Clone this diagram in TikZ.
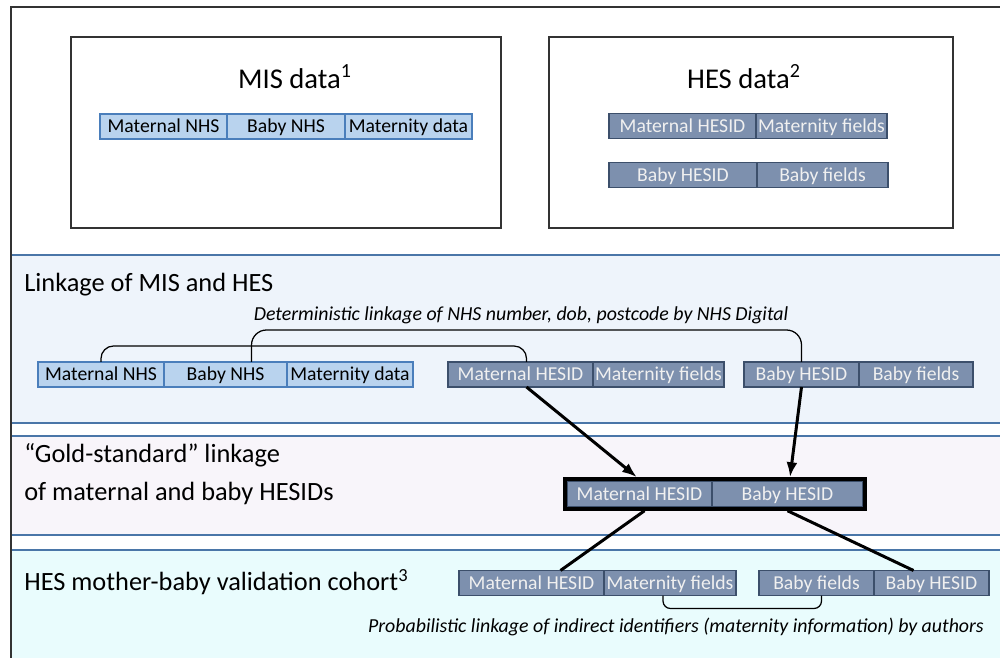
\documentclass[tikz,border=0pt]{standalone}
\usepackage{fontspec}
\setmainfont{Carlito}
\usepackage{xcolor}
\definecolor{frameDark}{HTML}{333333}
\definecolor{bandLine}{HTML}{4A76A8}
\definecolor{bandLink}{HTML}{EEF4FB}
\definecolor{bandGold}{HTML}{F8F5FA}
\definecolor{bandCohort}{HTML}{E9FCFD}
\definecolor{misFill}{HTML}{B9D3EE}
\definecolor{misBorder}{HTML}{4A7EBB}
\definecolor{hesFill}{HTML}{7D90AE}
\definecolor{hesBorder}{HTML}{3C4F6B}
\usepackage{tikz}
\usetikzlibrary{arrows.meta,positioning,fit,calc}
\tikzset{
    panel/.style={
        draw=frameDark,
        fill=white,
        rectangle,
        line width=0.3mm
    },
    heading/.style={
        font=\fontsize{16.3}{19}\selectfont
    },
    field/.style={
        rectangle,
        line width=0.25mm,
        minimum height=5mm,
        minimum width=#1,
        inner sep=0pt,
        outer sep=0pt,
        text height=8pt,
        text depth=1pt,
        font=\fontsize{11.2}{13}\selectfont
    },
    misfield/.style={
        field=#1,
        draw=misBorder,
        fill=misFill,
        text=black
    },
    hesfield/.style={
        field=#1,
        draw=hesBorder,
        fill=hesFill,
        text=white!94!black
    },
    bandlabel/.style={
        anchor=west,
        align=left,
        inner sep=0pt,
        font=\fontsize{15}{21.5}\selectfont
    },
    note/.style={
        font=\fontsize{11.3}{13}\selectfont\itshape
    },
    bracket/.style={
        draw=black,
        line width=0.25mm
    },
    arrow/.style={
        -{Latex[length=3mm,width=2.2mm]},
        line width=0.6mm,
        color=black
    },
    link/.style={
        line width=0.6mm,
        color=black
    },
    goldframe/.style={
        draw=black,
        line width=0.8mm,
        inner sep=0.45mm
    }
}

\begin{document}
\begin{tikzpicture}[x=0.2mm, y=-0.2mm]
    \useasboundingbox (0,0) rectangle (1000,658);

    % Bands
    \fill[bandLink] (11,255) rectangle (1005,423);
    \fill[bandGold] (11,436) rectangle (1005,535);
    \fill[bandCohort] (11,550) rectangle (1005,665);
    \foreach \y in {255,423,436,535,550}
        \draw[bandLine, line width=0.25mm] (11,\y) -- (1005,\y);
    \draw[frameDark, line width=0.3mm] (11,665) -- (11,7) -- (1005,7);

    % Source data
    \node[panel, minimum width=86mm, minimum height=38.2mm] (misbox) at (286,132.5) {};
    \node[panel, minimum width=80.8mm, minimum height=38.2mm] (hesbox) at (751,132.5) {};
    \node[heading] (mistitle) at (295,77) {MIS data\textsuperscript{1}};
    \node[heading] (hestitle) at (744,77) {HES data\textsuperscript{2}};

    \node[misfield=25.4mm, anchor=west] (mnhs) at (100,126.5) {Maternal NHS};
    \node[misfield=23.6mm, right=0pt of mnhs] (bnhs) {Baby NHS};
    \node[misfield=25.4mm, right=0pt of bnhs] (mdata) {Maternity data};

    \node[hesfield=29.4mm, anchor=west] (mhes) at (609,126) {Maternal HESID};
    \node[hesfield=26.2mm, right=0pt of mhes] (mfields) {Maternity fields};
    \node[hesfield=29.6mm, anchor=west] (bhes) at (609,175) {Baby HESID};
    \node[hesfield=26.2mm, right=0pt of bhes] (bfields) {Baby fields};

    % Linkage of MIS and HES
    \node[bandlabel] (linklabel) at (24,285) {Linkage of MIS and HES};
    \node[misfield=25.2mm, anchor=west] (lmnhs) at (38,374.5) {Maternal NHS};
    \node[misfield=24.6mm, right=0pt of lmnhs] (lbnhs) {Baby NHS};
    \node[misfield=25.2mm, right=0pt of lbnhs] (lmdata) {Maternity data};
    \node[hesfield=29mm, anchor=west] (lmhes) at (448,374.5) {Maternal HESID};
    \node[hesfield=26.2mm, right=0pt of lmhes] (lmfields) {Maternity fields};
    \node[hesfield=23mm, anchor=west] (lbhes) at (744,374.5) {Baby HESID};
    \node[hesfield=22.8mm, right=0pt of lbhes] (lbfields) {Baby fields};
    \node[note] (detnote) at (521,315) {Deterministic linkage of NHS number, dob, postcode by NHS Digital};

    \draw[bracket, rounded corners=2.5mm] (lmnhs.north) -- ++(0,-16) -| ([xshift=1.2mm]lmhes.north);
    \draw[bracket, rounded corners=3mm] ([xshift=5.2mm]lbnhs.north) -- ++(0,-32) -| (lbhes.north);

    % Gold-standard linkage
    \node[bandlabel] (goldlabel) at (24,474) {\textquotedblleft Gold-standard\textquotedblright{} linkage\\of maternal and baby HESIDs};
    \node[hesfield=29mm, anchor=west] (gmhes) at (567,494) {Maternal HESID};
    \node[hesfield=30.2mm, right=0pt of gmhes] (gbhes) {Baby HESID};
    \node[goldframe, fit=(gmhes) (gbhes)] (gold) {};

    \draw[arrow] ([xshift=1.2mm]lmhes.south) -- ([xshift=-0.5mm]gmhes.north |- gold.north);
    \draw[arrow] (lbhes.south) -- ([xshift=0.5mm]gbhes.north |- gold.north);

    % Validation cohort
    \node[bandlabel] (cohortlabel) at (24,582) {HES mother-baby validation cohort\textsuperscript{3}};
    \node[hesfield=29mm, anchor=west] (cmhes) at (459,583) {Maternal HESID};
    \node[hesfield=26.4mm, right=0pt of cmhes] (cmfields) {Maternity fields};
    \node[hesfield=23mm, anchor=west] (cbfields) at (759,583) {Baby fields};
    \node[hesfield=23mm, right=0pt of cbfields] (cbhes) {Baby HESID};
    \node[note] (probnote) at (676,627) {Probabilistic linkage of indirect identifiers (maternity information) by authors};

    \draw[link] ([xshift=1mm]gmhes.south |- gold.south) -- ([xshift=5.8mm]cmhes.north);
    \draw[link] (gbhes.south |- gold.south) -- ([xshift=-3.6mm]cbhes.north);
    \draw[bracket, rounded corners=1.5mm] ([xshift=-1.4mm]cmfields.south) -- ++(0,13) -| ([xshift=1mm]cbfields.south);
\end{tikzpicture}
\end{document}
